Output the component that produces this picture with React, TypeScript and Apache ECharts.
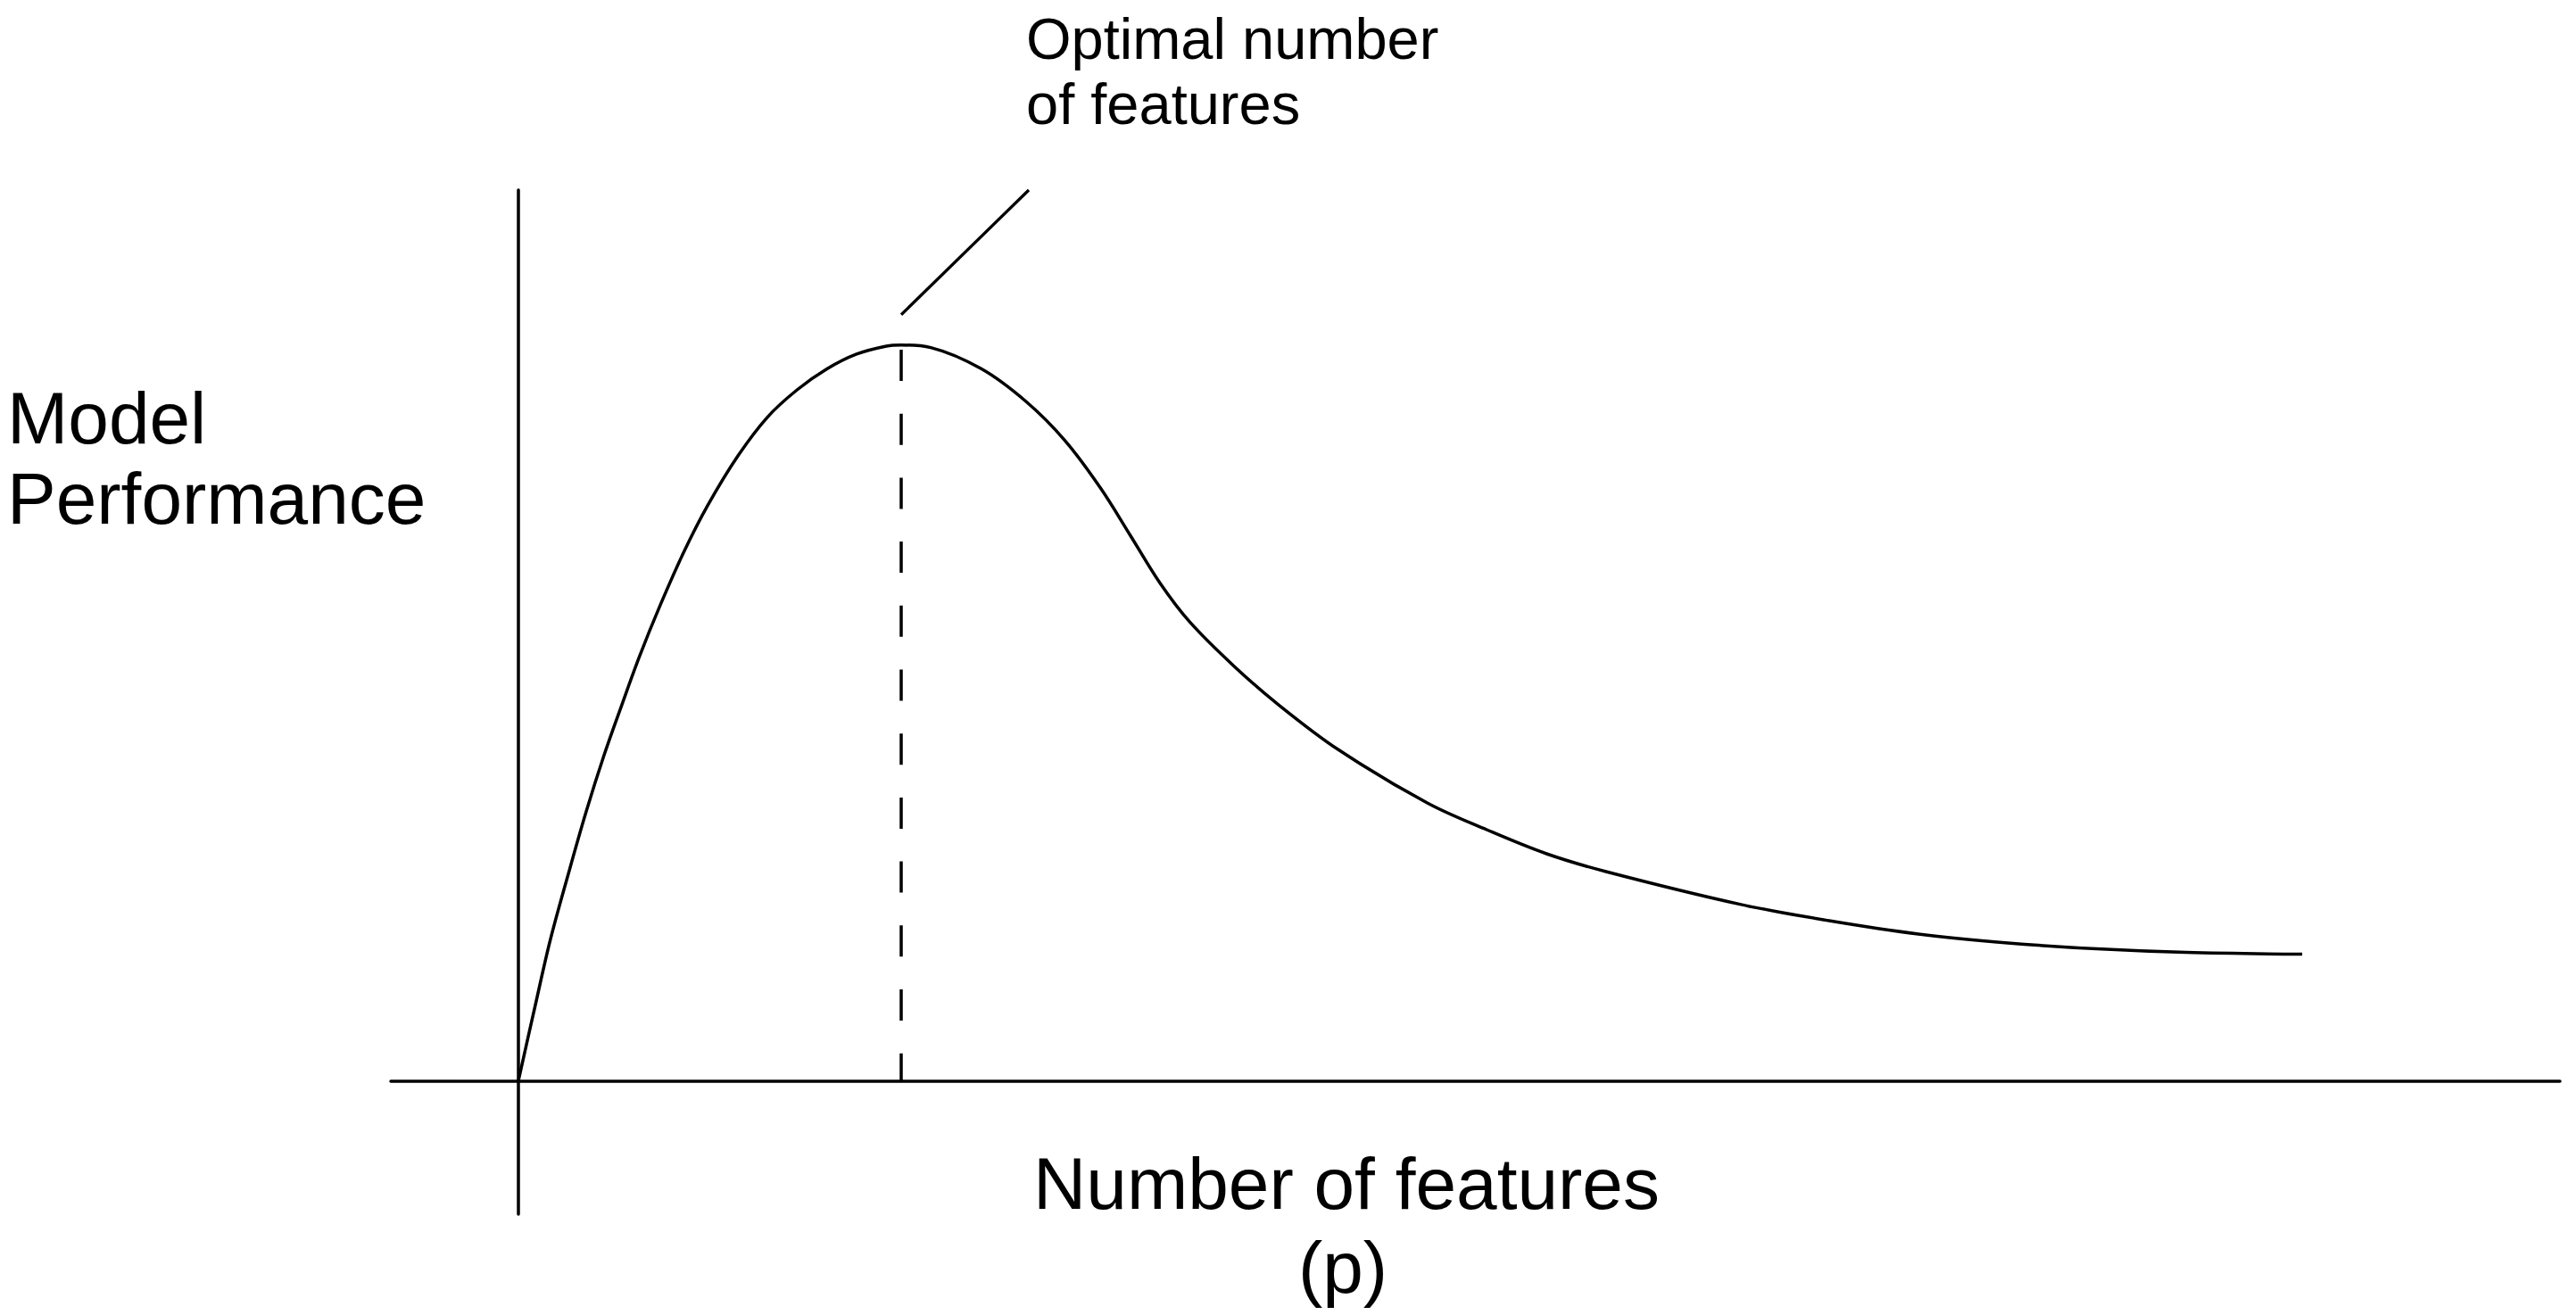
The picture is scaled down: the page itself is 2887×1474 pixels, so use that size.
import React, { useEffect, useRef } from "react";
import * as echarts from "echarts";

// Curve: number of features (x) vs model performance (y)
const featureCounts = [
  0, 0.66, 1.25, 1.95, 2.65, 3.35, 4.05, 4.74, 5.56, 6.49, 7.42, 8.59, 9.76, 10.92,
  12.09, 13.25, 14.42, 15.0, 16.16, 18.15, 19.9, 21.41, 22.81, 23.98, 25.14, 26.3,
  28.05, 29.8, 32.13, 35.63, 37.96, 40.29, 42.62, 47.87, 51.36, 54.86,
  58.36, 61.85, 65.35, 69.9,
];
const performance = [
  0, 8.44, 15.8, 23.14, 30.15, 36.49, 42.17, 47.6, 53.4, 59.4, 64.6, 70.1, 74.5,
  77.56, 79.91, 81.57, 82.47, 82.59, 82.31, 79.91, 76.23, 71.89, 66.54, 61.21, 55.87,
  51.52, 46.51, 42.17, 37.16, 31.15, 28.15, 25.47, 23.47, 19.8, 17.96,
  16.46, 15.46, 14.79, 14.39, 14.19,
];

// Optimal point marker (dashed drop line) and leader line to the annotation
const optimalX = [15, 15];
const optimalY = [82.07, 0];
const leaderX = [15, 20];
const leaderY = [86, 100];

const xRange = [-5, 80];
const yRange = [-15, 100];

const yLabelLines = ["Model", "Performance"];
const xLabelLines = ["Number of features", "(p)"];
const noteLines = ["Optimal number", "of features"];

const FONT = "'Liberation Sans', Arial, Helvetica, sans-serif";

export default function App() {
  const ref = useRef<HTMLDivElement>(null);

  useEffect(() => {
    if (!ref.current) return;
    const chart = echarts.init(ref.current, null, { renderer: "svg" });

    const curveData = featureCounts.map((x, i) => [x, performance[i]]);
    const dropData = optimalX.map((x, i) => [x, optimalY[i]]);
    const leaderData = leaderX.map((x, i) => [x, leaderY[i]]);

    const textEl = (text: string, x: number, y: number, size: number, align: string) => ({
      type: "text",
      x,
      y,
      silent: true,
      style: {
        text,
        fill: "#000",
        fontSize: size,
        fontFamily: FONT,
        align,
        textAlign: align,
        verticalAlign: "middle",
        textVerticalAlign: "middle",
      },
    });

    chart.setOption({
      animation: false,
      backgroundColor: "#ffffff",
      grid: { left: 438, right: 18, top: 213, bottom: 113, containLabel: false },
      xAxis: {
        type: "value",
        min: xRange[0],
        max: xRange[1],
        axisLine: { show: true, onZero: true, lineStyle: { color: "#000", width: 3.5 } },
        axisTick: { show: false },
        axisLabel: { show: false },
        splitLine: { show: false },
      },
      yAxis: {
        type: "value",
        min: yRange[0],
        max: yRange[1],
        axisLine: { show: true, onZero: true, lineStyle: { color: "#000", width: 3.5 } },
        axisTick: { show: false },
        axisLabel: { show: false },
        splitLine: { show: false },
      },
      series: [
        {
          type: "line",
          data: curveData,
          smooth: 0.35,
          showSymbol: false,
          symbol: "none",
          clip: false,
          lineStyle: { color: "#000", width: 3.5, join: "round" },
        },
        {
          type: "line",
          data: dropData,
          showSymbol: false,
          symbol: "none",
          clip: false,
          lineStyle: { color: "#000", width: 3.5, type: [35, 36.7] },
        },
        {
          type: "line",
          data: leaderData,
          showSymbol: false,
          symbol: "none",
          clip: false,
          lineStyle: { color: "#000", width: 3.3 },
        },
      ],
      graphic: [
        textEl(yLabelLines[0], 8, 468.6, 82, "left"),
        textEl(yLabelLines[1], 8, 558.6, 82, "left"),
        textEl(xLabelLines[0], 1509, 1326.6, 82, "center"),
        textEl(xLabelLines[1], 1505, 1420.6, 82, "center"),
        textEl(noteLines[0], 1150, 43.2, 65, "left"),
        textEl(noteLines[1], 1150, 116.5, 65, "left"),
      ],
    });

    return () => chart.dispose();
  }, []);

  return (
    <div
      ref={ref}
      style={{ position: "fixed", left: 0, top: 0, width: 2887, height: 1474, background: "#fff" }}
    />
  );
}
